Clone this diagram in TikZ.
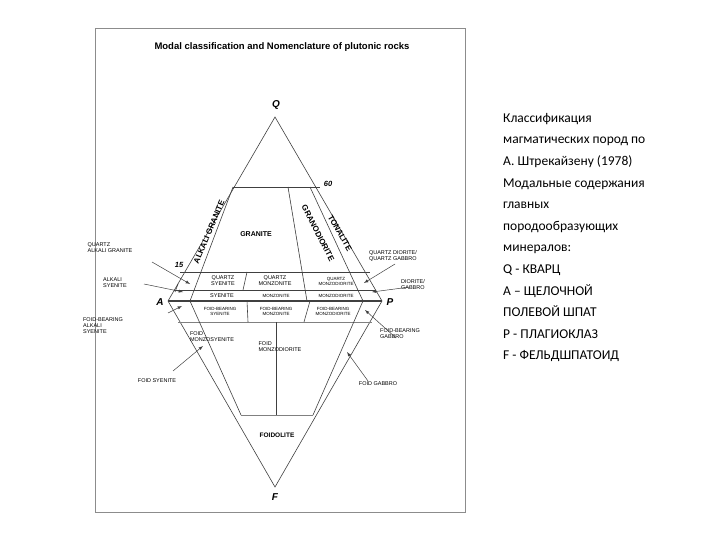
\documentclass[tikz,border=0pt]{standalone}
\usepackage{fontspec}
\setmainfont{Liberation Sans}
\newfontfamily\rus{Carlito}
\begin{document}
\begin{tikzpicture}[x=1pt,y=-1pt,
  ln/.style={draw=black!75,line width=0.6pt},
  sm/.style={font=\fontsize{5.5}{6}\selectfont,inner sep=0pt,align=left},
  md/.style={font=\fontsize{6.5}{7}\selectfont\bfseries,inner sep=0pt},
  dg/.style={font=\fontsize{8}{8}\selectfont\bfseries,inner sep=0pt},
  vx/.style={font=\fontsize{10}{10}\selectfont\bfseries\itshape,inner sep=0pt},
  ar/.style={draw=black!75,line width=0.5pt,-latex}]
\useasboundingbox (0,0) rectangle (720,540);
\fill[white] (0,0) rectangle (720,540);
\draw[black!45,line width=0.8pt] (95,28) rectangle (465,512);
\node[font=\fontsize{9.5}{10}\selectfont\bfseries] (title) at (282,47) {Modal classification and Nomenclature of plutonic rocks};
% vertices
\coordinate (Q) at (275,117);
\coordinate (A) at (168,301);
\coordinate (P) at (382,301);
\coordinate (F) at (275,487);
\draw[ln] (A)--(Q)--(P);
\draw[ln] (A)--(F)--(P);
\draw[ln,line width=1.2pt] (A)--(P);
\node[vx] (lq) at (276,105) {Q};
\node[vx] (la) at (160,302) {A};
\node[vx] (lp) at (390,302) {P};
\node[vx] (lf) at (275,497) {F};
% horizontals
\coordinate (h60a) at (233,187); \coordinate (h60b) at (320,187);
\draw[ln] (h60a)--(h60b);
\node[font=\fontsize{7.5}{8}\selectfont\bfseries\itshape] (l60) at (328,184) {60};
\coordinate (h15a) at (180,272); \coordinate (h15b) at (370,272);
\draw[ln] (h15a)--(h15b);
\node[font=\fontsize{7.5}{8}\selectfont\bfseries\itshape] (l15) at (179,265) {15};
\coordinate (h5a) at (174,290); \coordinate (h5b) at (376,290);
\draw[ln] (h5a)--(h5b);
\coordinate (h10a) at (178,322); \coordinate (h10b) at (372,322);
\draw[black!50,line width=0.4pt] (h10a)--(h10b);
\coordinate (h60c) at (241,415); \coordinate (h60d) at (313,415);
\draw[black!50,line width=0.4pt] (h60c)--(h60d);
% diagonals
\coordinate (d1a) at (233,187); \coordinate (d1b) at (190,301); \coordinate (d1c) at (241,415);
\draw[ln] (d1a)--(d1b)--(d1c);
\coordinate (d2a) at (288,187); \coordinate (d2b) at (307,301);
\draw[ln] (d2a)--(d2b);
\coordinate (d3a) at (310,187); \coordinate (d3b) at (363,301); \coordinate (d3c) at (313,415);
\draw[ln] (d3a)--(d3b)--(d3c);
\coordinate (v1a) at (247,272); \coordinate (v1b) at (243,290);
\draw[ln] (v1a)--(v1b);
\coordinate (v2a) at (247,301); \coordinate (v2b) at (248,322);
\draw[ln] (v2a)--(v2b);
\coordinate (v3a) at (310,301); \coordinate (v3b) at (304,322);
\draw[ln] (v3a)--(v3b);
\coordinate (v4a) at (276,322); \coordinate (v4b) at (276,415);
\draw[ln] (v4a)--(v4b);
\coordinate (t1a) at (175,292); \coordinate (t1b) at (178,284);
\draw[ln] (t1a)--(t1b);
% field labels
\node[dg,rotate=67] (lag) at (209,232) {ALKALI GRANITE};
\node[dg,rotate=-63] (lgd) at (318,233) {GRANODIORITE};
\node[dg,rotate=-60] (lto) at (340,233) {TONALITE};
\node[md,font=\fontsize{7}{7}\selectfont\bfseries] (lgr) at (256,234) {GRANITE};
\node[sm,align=center] (qs) at (223,281) {QUARTZ\\SYENITE};
\node[sm,align=center] (qm) at (275,281) {QUARTZ\\MONZONITE};
\node[sm,align=center,font=\fontsize{4.5}{5}\selectfont] (qmd) at (336,281) {QUARTZ\\MONZODIORITE};
\node[sm] (sy) at (222,296) {SYENITE};
\node[sm,font=\fontsize{4.5}{5}\selectfont] (mz) at (276,296) {MONZONITE};
\node[sm,font=\fontsize{4.5}{5}\selectfont] (mzd) at (336,296) {MONZODIORITE};
\node[sm,align=center,font=\fontsize{4.5}{5}\selectfont] (fbs) at (220,311) {FOID-BEARING\\SYENITE};
\node[sm,align=center,font=\fontsize{4.5}{5}\selectfont] (fbm) at (276,311) {FOID-BEARING\\MONZONITE};
\node[sm,align=center,font=\fontsize{4.5}{5}\selectfont] (fbmd) at (333,311) {FOID-BEARING\\MONZODIORITE};
\node[sm] (fms) at (212,337) {FOID\\MONZOSYENITE};
\node[sm] (fmd) at (280,347) {FOID\\MONZODIORITE};
\node[md] (fol) at (277,435) {FOIDOLITE};
% outside labels and arrows
\node[sm] (qag) at (110,248) {QUARTZ\\ALKALI GRANITE};
\coordinate (qagt) at (190,284);
\draw[ar] (152,262)--(qagt);
\node[sm] (asy) at (115,283) {ALKALI\\SYENITE};
\coordinate (asyt) at (183,292);
\draw[ar] (144,284)--(asyt);
\node[sm] (qd) at (393,256) {QUARTZ DIORITE/\\QUARTZ GABBRO};
\coordinate (qdt) at (364,283);
\draw[ar] (395,264)--(qdt);
\node[sm] (dg) at (413,285) {DIORITE/\\GABBRO};
\coordinate (dgt) at (372,292);
\draw[ar] (410,287)--(dgt);
\node[sm] (fbas) at (103,326) {FOID-BEARING\\ALKALI\\SYENITE};
\coordinate (fbast) at (182,306);
\draw[ar] (168,313)--(fbast);
\node[sm] (fsy) at (157,381) {FOID SYENITE};
\coordinate (fsyt) at (203,346);
\draw[ar] (173,371)--(fsyt);
\node[sm] (fbg) at (400,334) {FOID-BEARING\\GABBRO};
\coordinate (fbgt) at (365,310);
\draw[ar] (396,338)--(fbgt);
\node[sm] (fg) at (378,384) {FOID GABBRO};
\coordinate (fgt) at (347,352);
\draw[ar] (368,381)--(fgt);
% russian text
\node[font=\rus\fontsize{13.5}{21.6}\selectfont,anchor=north west,align=left,inner sep=0pt] (ru) at (503,113)
{Классификация\\магматических пород по\\А. Штрекайзену (1978)\\Модальные содержания\\главных\\породообразующих\\минералов:\\Q - КВАРЦ\\А – ЩЕЛОЧНОЙ\\ПОЛЕВОЙ ШПАТ\\Р - ПЛАГИОКЛАЗ\\F - ФЕЛЬДШПАТОИД};
\end{tikzpicture}
\end{document}
